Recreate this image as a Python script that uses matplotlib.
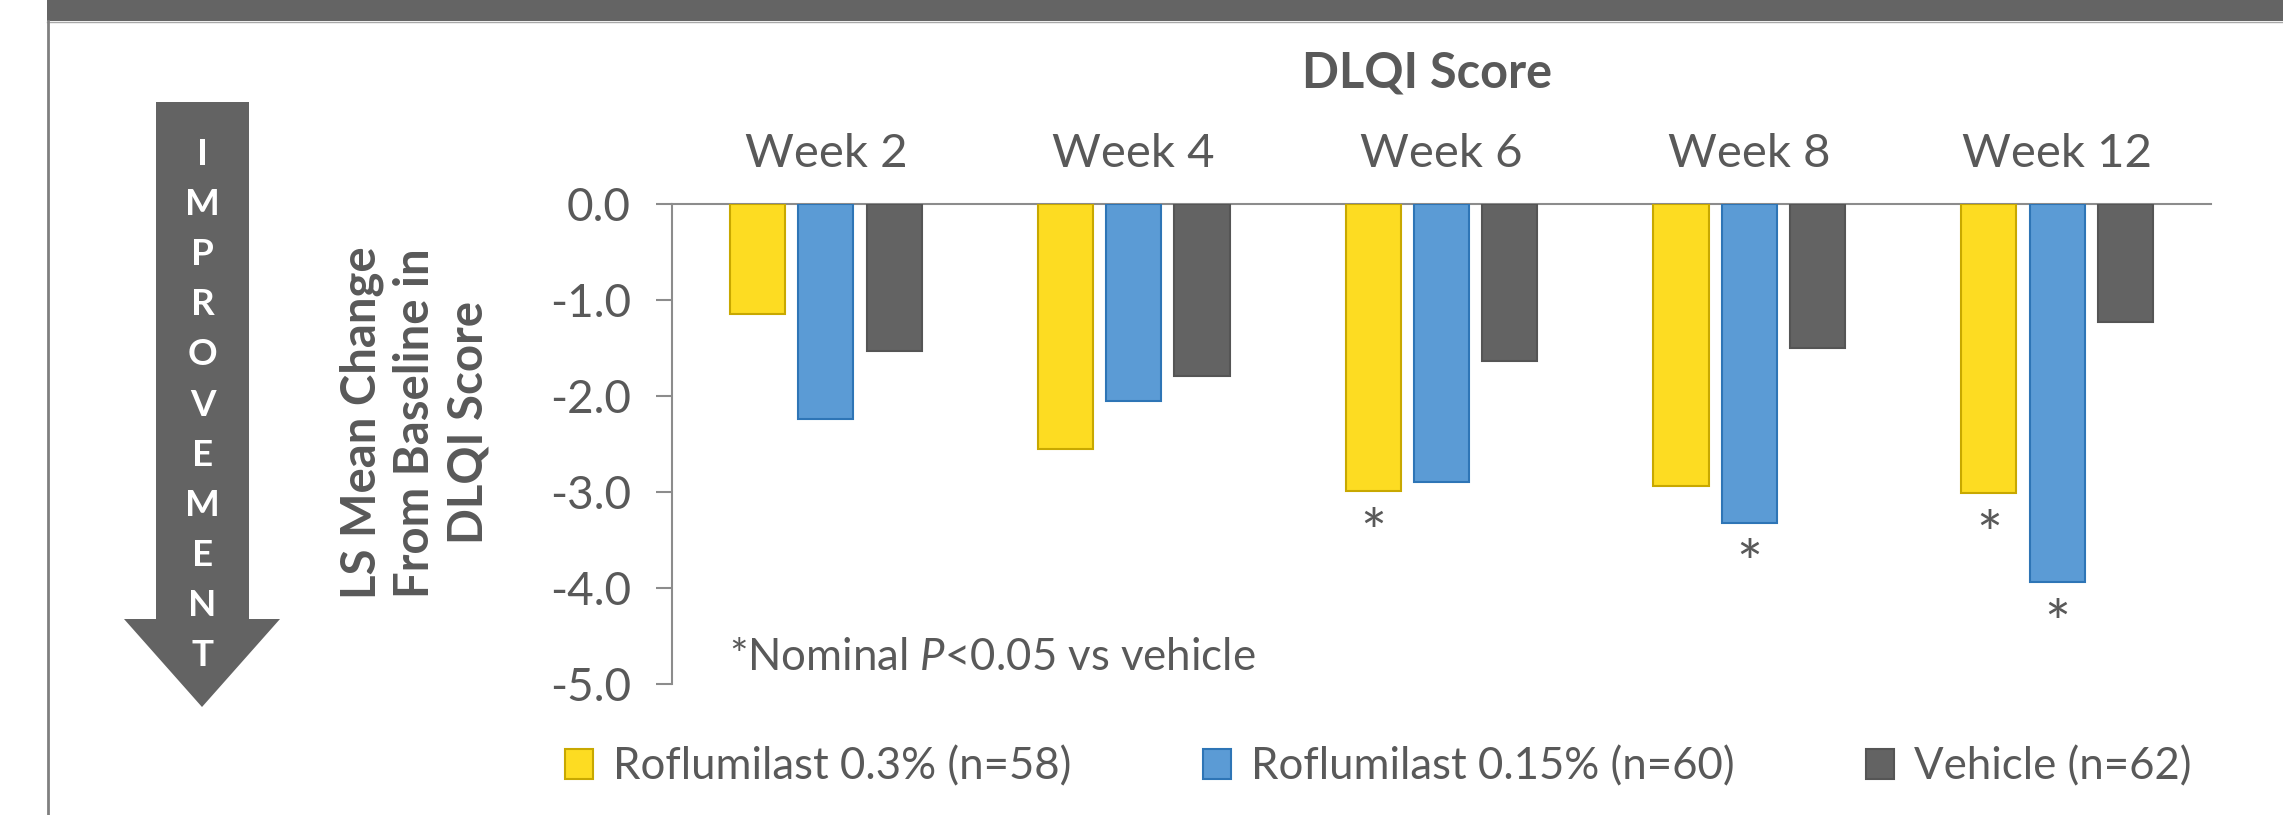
import matplotlib
matplotlib.use("Agg")
import matplotlib.pyplot as plt
from matplotlib.patches import Rectangle, Polygon
from matplotlib.lines import Line2D
import numpy as np

# ---------------- data ----------------
weeks = ["Week 2", "Week 4", "Week 6", "Week 8", "Week 12"]
series_labels = ["Roflumilast 0.3% (n=58)", "Roflumilast 0.15% (n=60)", "Vehicle (n=62)"]
rof_03 = [-1.15, -2.55, -2.99, -2.94, -3.01]
rof_015 = [-2.24, -2.05, -2.90, -3.32, -3.94]
vehicle = [-1.53, -1.79, -1.64, -1.50, -1.23]
sig_03 = [False, False, True, False, True]
sig_015 = [False, False, False, True, True]
sig_vehicle = [False, False, False, False, False]
yticks = [0.0, -1.0, -2.0, -3.0, -4.0, -5.0]
ytick_labels = ["0.0", "-1.0", "-2.0", "-3.0", "-4.0", "-5.0"]
arrow_word = "IMPROVEMENT"

# ---------------- style ----------------
plt.rcParams["font.family"] = ["Lato", "DejaVu Sans"]
plt.rcParams["mathtext.fontset"] = "custom"
plt.rcParams["mathtext.rm"] = "Lato"
plt.rcParams["mathtext.it"] = "Lato:italic"
TXT = "#595959"
AX = "#8c8c8c"
fills = ["#FDDC22", "#5B9BD5", "#636363"]
edges = ["#C8A800", "#2E75B6", "#555555"]

W, H = 2283, 815
fig = plt.figure(figsize=(W / 100, H / 100), dpi=100)
fig.patch.set_facecolor("white")


def fx(x):
    return x / W


def fy(y):
    return 1 - y / H


# ---------------- frame / header ----------------
fig.add_artist(Rectangle((fx(47), fy(21)), 1 - fx(47), 21 / H, transform=fig.transFigure,
                         facecolor="#646464", edgecolor="none"))
fig.add_artist(Line2D([fx(47), 1], [fy(21.5), fy(21.5)], transform=fig.transFigure,
                      color="#a8a8a8", lw=1))
fig.add_artist(Line2D([fx(48), fx(48)], [fy(21), 0], transform=fig.transFigure,
                      color="#808080", lw=2))

# ---------------- improvement arrow ----------------
arrow_pts = [(156, 102), (249, 102), (249, 619), (280, 619), (202, 707),
             (124, 619), (156, 619)]
fig.add_artist(Polygon([(fx(x), fy(y)) for x, y in arrow_pts], closed=True,
                       transform=fig.transFigure, facecolor="#636363", edgecolor="none"))
for i, ch in enumerate(arrow_word):
    fig.text(fx(202.5), fy(165 + 50.1 * i), ch, ha="center", va="baseline",
             fontsize=26.5, fontweight="bold", color="white")

# ---------------- axes ----------------
ax = fig.add_axes([fx(672), fy(684), (2211 - 672) / W, (684 - 204) / H])
ax.set_xlim(-0.5, 4.5)
ax.set_ylim(-5, 0)
x = np.arange(len(weeks))
offsets = [-0.222, 0.0, 0.222]
bw = 0.179
all_series = [rof_03, rof_015, vehicle]
all_sig = [sig_03, sig_015, sig_vehicle]
handles = []
for j, vals in enumerate(all_series):
    bars = ax.bar(x + offsets[j], vals, width=bw, color=fills[j], edgecolor=edges[j],
                  linewidth=1.5, zorder=3)
    handles.append(bars)
    for k, v in enumerate(vals):
        if all_sig[j][k]:
            ax.annotate("*", xy=(x[k] + offsets[j], v), xytext=(0, -12),
                        textcoords="offset points", ha="center", va="top",
                        fontsize=44, color=TXT)

for s in ["bottom", "right"]:
    ax.spines[s].set_visible(False)
for s in ["top", "left"]:
    ax.spines[s].set_color(AX)
    ax.spines[s].set_linewidth(1.5)
ax.set_yticks(yticks)
ax.set_yticklabels(ytick_labels)
ax.tick_params(axis="y", direction="out", length=11.5, width=1.5, color=AX,
               labelsize=33, labelcolor=TXT, pad=18)
ax.xaxis.tick_top()
ax.set_xticks(x)
ax.set_xticklabels(weeks)
ax.tick_params(axis="x", length=0, pad=21, labelsize=34, labelcolor=TXT)
ax.set_facecolor("none")

# ---------------- texts ----------------
fig.text(fx(1427), fy(88), "DLQI Score", ha="center", va="baseline", fontsize=35,
         fontweight="bold", color=TXT)
fig.text(fx(415), fy(423), "LS Mean Change\nFrom Baseline in\nDLQI Score", rotation=90,
         ha="center", va="center", multialignment="center", fontsize=34,
         fontweight="bold", color=TXT, linespacing=1.25)
fig.text(fx(729), fy(670), r"*Nominal $\mathit{P}$<0.05 vs vehicle", ha="left",
         va="baseline", fontsize=31.5, color=TXT)

# ---------------- legend ----------------
fig.legend(handles, series_labels, loc="center", bbox_to_anchor=(fx(1378), fy(767)),
           bbox_transform=fig.transFigure, ncol=3, frameon=False, fontsize=31.5,
           labelcolor=TXT, handlelength=0.64, handleheight=0.69, handletextpad=0.46,
           columnspacing=3.0, borderpad=0, borderaxespad=0)

fig.savefig("out.png", dpi=100, facecolor="white")
